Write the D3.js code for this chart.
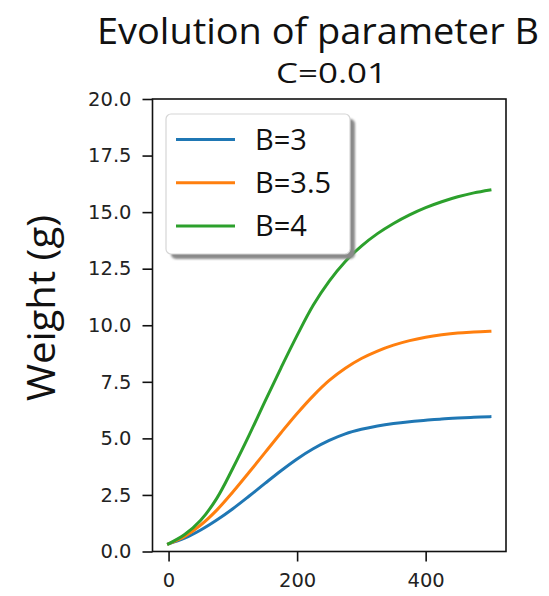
<!DOCTYPE html>
<html>
<head>
<meta charset="utf-8">
<script src="https://cdn.jsdelivr.net/npm/d3@7"></script>
<style>
  html, body { margin: 0; padding: 0; background: #fff; }
  svg { display: block; }
</style>
</head>
<body>
<svg id="chart" width="549" height="596"></svg>
<script>
// Time (days) at which each weight is sampled
const times = [0, 25, 50, 75, 100, 125, 150, 175, 200, 225, 250, 275, 300, 325, 350, 375, 400, 425, 450, 475, 500];

// Weight (g) for each value of B
const weightB3  = [0.34, 0.59, 0.95, 1.39, 1.89, 2.44, 3.01, 3.57, 4.09, 4.54, 4.91, 5.20, 5.40, 5.55, 5.66, 5.74, 5.80, 5.86, 5.90, 5.93, 5.96];
const weightB35 = [0.34, 0.67, 1.17, 1.83, 2.63, 3.49, 4.37, 5.25, 6.10, 6.88, 7.56, 8.10, 8.53, 8.86, 9.12, 9.32, 9.47, 9.58, 9.66, 9.70, 9.73];
const weightB4  = [0.34, 0.75, 1.38, 2.35, 3.68, 5.12, 6.64, 8.12, 9.55, 10.88, 11.95, 12.82, 13.50, 14.05, 14.50, 14.88, 15.20, 15.46, 15.68, 15.85, 15.98];

const seriesNames = ["B=3", "B=3.5", "B=4"];
const seriesColors = ["#1f77b4", "#ff7f0e", "#2ca02c"];
const seriesValues = [weightB3, weightB35, weightB4];

const yTicks = [0, 2.5, 5, 7.5, 10, 12.5, 15, 17.5, 20];
const xTicks = [0, 200, 400];

const titleText = "Evolution of parameter B";
const subtitleText = "C=0.01";
const yLabelText = "Weight (g)";

const svg = d3.select("#chart");
const plot = { left: 152.5, right: 506, top: 99, bottom: 551.5 };

const x = d3.scaleLinear().domain([-25, 525]).range([plot.left, plot.right]);
const y = d3.scaleLinear().domain([0, 20]).range([plot.bottom, plot.top]);

const uiFont = "'Open Sans', Lato, sans-serif";
const tickFont = "'DejaVu Sans', sans-serif";

// Curves
const line = d3.line()
  .x(d => x(d[0]))
  .y(d => y(d[1]))
  .curve(d3.curveCatmullRom.alpha(0.5));

const plotG = svg.append("g");
seriesValues.forEach((vals, i) => {
  plotG.append("path")
    .datum(times.map((t, k) => [t, vals[k]]))
    .attr("d", line)
    .attr("fill", "none")
    .attr("stroke", seriesColors[i])
    .attr("stroke-width", 3)
    .attr("stroke-linecap", "square");
});

// Axes
const yAxis = d3.axisLeft(y).tickValues(yTicks).tickFormat(d3.format(".1f")).tickSize(10).tickPadding(11);
const xAxis = d3.axisBottom(x).tickValues(xTicks).tickFormat(d3.format("d")).tickSize(10).tickPadding(12);

const gy = svg.append("g").attr("transform", `translate(${plot.left},0)`).call(yAxis);
const gx = svg.append("g").attr("transform", `translate(0,${plot.bottom})`).call(xAxis);

[gx, gy].forEach(g => {
  g.select(".domain").remove();
  g.selectAll(".tick line").attr("stroke", "#111").attr("stroke-width", 1.6);
  g.selectAll(".tick text")
    .attr("fill", "#222")
    .style("font-family", tickFont)
    .style("font-size", "19.5px");
});

// Frame
svg.append("rect")
  .attr("x", plot.left).attr("y", plot.top)
  .attr("width", plot.right - plot.left)
  .attr("height", plot.bottom - plot.top)
  .attr("fill", "none")
  .attr("stroke", "#111")
  .attr("stroke-width", 1.6);

// Titles
svg.append("text")
  .attr("x", 318).attr("y", 44)
  .attr("text-anchor", "middle")
  .attr("textLength", 442)
  .attr("lengthAdjust", "spacingAndGlyphs")
  .style("font-family", uiFont)
  .style("font-size", "37px")
  .attr("fill", "#111")
  .text(titleText);

svg.append("text")
  .attr("x", 331.5).attr("y", 83)
  .attr("text-anchor", "middle")
  .attr("textLength", 111)
  .attr("lengthAdjust", "spacingAndGlyphs")
  .style("font-family", uiFont)
  .style("font-size", "27.5px")
  .attr("fill", "#111")
  .text(subtitleText);

svg.append("text")
  .attr("transform", `translate(55,308) rotate(-90)`)
  .attr("text-anchor", "middle")
  .attr("textLength", 186)
  .attr("lengthAdjust", "spacingAndGlyphs")
  .style("font-family", uiFont)
  .style("font-size", "38px")
  .attr("fill", "#111")
  .text(yLabelText);

// Legend with drop shadow
const legend = { x: 166, y: 114, w: 184, h: 140 };
const defs = svg.append("defs");
defs.append("filter").attr("id", "shadowBlur")
  .append("feGaussianBlur").attr("stdDeviation", 1.2);

const lg = svg.append("g");
lg.append("rect")
  .attr("x", legend.x + 5).attr("y", legend.y + 5)
  .attr("width", legend.w).attr("height", legend.h)
  .attr("rx", 5)
  .attr("fill", "#8a8a8a")
  .attr("filter", "url(#shadowBlur)");
lg.append("rect")
  .attr("x", legend.x).attr("y", legend.y)
  .attr("width", legend.w).attr("height", legend.h)
  .attr("rx", 5)
  .attr("fill", "#fff")
  .attr("stroke", "#d6d6d6")
  .attr("stroke-width", 1.2);

seriesNames.forEach((name, i) => {
  const cy = legend.y + 25.5 + i * 43.2;
  lg.append("line")
    .attr("x1", legend.x + 10).attr("x2", legend.x + 69)
    .attr("y1", cy).attr("y2", cy)
    .attr("stroke", seriesColors[i])
    .attr("stroke-width", 3);
  lg.append("text")
    .attr("x", legend.x + 89).attr("y", cy)
    .attr("dy", "0.36em")
    .style("font-family", uiFont)
    .style("font-size", "29px")
    .attr("fill", "#111")
    .text(name);
});
</script>
</body>
</html>
